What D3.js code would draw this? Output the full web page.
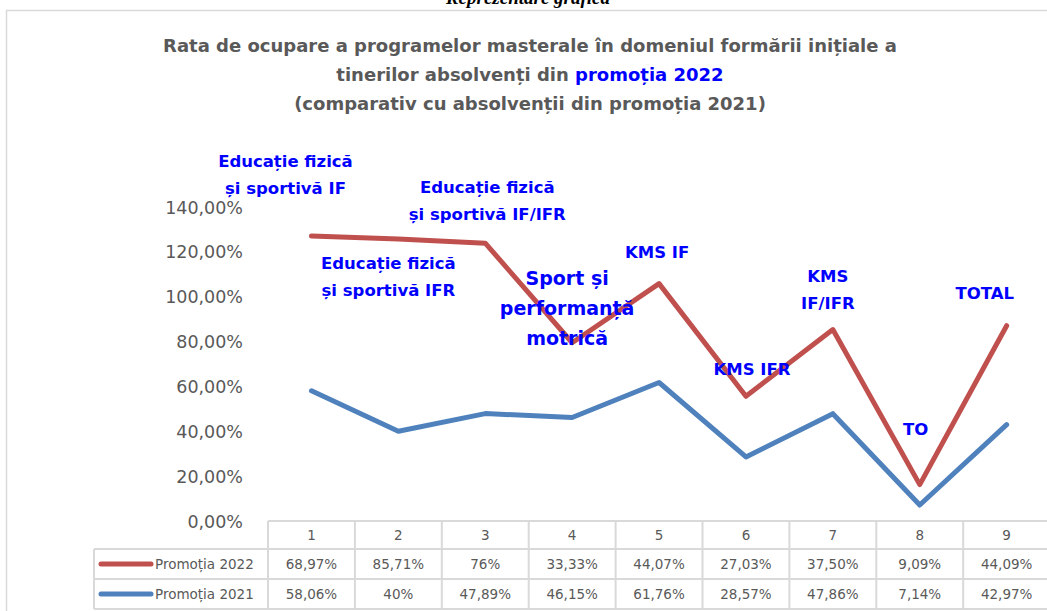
<!DOCTYPE html>
<html lang="ro">
<head>
<meta charset="UTF-8">
<title>Rata de ocupare</title>
<script src="https://d3js.org/d3.v7.min.js"></script>
<style>
  body { margin: 0; background: #fff; }
  svg { display: block; }
</style>
</head>
<body>
<svg id="chart" width="1047" height="611"></svg>
<script>
// program numbers (table header)
const categories = ["1", "2", "3", "4", "5", "6", "7", "8", "9"];
const promotia2022 = [68.97, 85.71, 76, 33.33, 44.07, 27.03, 37.50, 9.09, 44.09];
const promotia2021 = [58.06, 40, 47.89, 46.15, 61.76, 28.57, 47.86, 7.14, 42.97];
const labels2022 = ["68,97%", "85,71%", "76%", "33,33%", "44,07%", "27,03%", "37,50%", "9,09%", "44,09%"];
const labels2021 = ["58,06%", "40%", "47,89%", "46,15%", "61,76%", "28,57%", "47,86%", "7,14%", "42,97%"];
const yTicks = [0, 20, 40, 60, 80, 100, 120, 140];

// program names written over the chart (offsets from the red point)
const annotations = [
  { i: 0, lines: ["Educație fizică", "și sportivă IF"], dy: -69, dx: -26 },
  { i: 2, lines: ["Educație fizică", "și sportivă IF/IFR"], dy: -50, dx: 2 },
  { i: 1, lines: ["Educație fizică", "și sportivă IFR"], dy: 30, dx: -10 },
  { i: 3, lines: ["Sport și", "performanță", "motrică"], dy: -58, dx: -5, big: true },
  { i: 4, lines: ["KMS IF"], dy: -26, dx: -2 },
  { i: 5, lines: ["KMS IFR"], dy: -21, dx: 6 },
  { i: 6, lines: ["KMS", "IF/IFR"], dy: -48, dx: -5 },
  { i: 7, lines: ["TO"], dy: -50, dx: -4 },
  { i: 8, lines: ["TOTAL"], dy: -27, dx: -22 }
];

const red = "#C0504D", blue = "#4F81BD", grey = "#595959", grid = "#D9D9D9";
const font = "'DejaVu Sans', sans-serif";

const svg = d3.select("#chart");

// frame
svg.append("rect").attr("x", 6.5).attr("y", 10.5).attr("width", 1060).attr("height", 620)
  .attr("fill", "#fff").attr("stroke", grid).attr("stroke-width", 1.5);

// cut-off heading above the frame
svg.append("text").attr("x", 528).attr("y", 4).attr("text-anchor", "middle")
  .attr("font-family", "'Liberation Serif', serif").attr("font-style", "italic")
  .attr("font-weight", "bold").attr("font-size", 19).text("Reprezentare grafică");

// title
const title = svg.append("g").attr("font-family", font).attr("font-weight", "bold")
  .attr("font-size", 18).attr("fill", grey).attr("text-anchor", "middle");
title.append("text").attr("x", 530).attr("y", 52)
  .text("Rata de ocupare a programelor masterale în domeniul formării inițiale a");
const t2 = title.append("text").attr("x", 530).attr("y", 81);
t2.append("tspan").text("tinerilor absolvenți din ");
t2.append("tspan").attr("fill", "#0000FF").text("promoția 2022");
title.append("text").attr("x", 530).attr("y", 110)
  .text("(comparativ cu absolvenții din promoția 2021)");

// scales
const colW = 86.9, left = 268;
const x = d3.scaleBand().domain(categories).range([left, left + colW * categories.length]);
const y = d3.scaleLinear().domain([0, 140]).range([521, 207]);

// y axis
const yAxis = d3.axisLeft(y).tickValues(yTicks)
  .tickFormat(d => d3.format(".2f")(d).replace(".", ",") + "%").tickSize(0);
svg.append("g").attr("transform", "translate(246,0)").call(yAxis)
  .call(g => g.select(".domain").remove())
  .call(g => g.selectAll("text").attr("font-family", font).attr("font-size", 17.5)
    .attr("fill", grey).attr("dy", "0.35em"));

// stacked line values
const stacked = promotia2022.map((v, i) => v + promotia2021[i]);
const cx = c => x(c) + x.bandwidth() / 2;
const line = d3.line().x((d, i) => cx(categories[i])).y(d => y(d));

svg.append("path").datum(promotia2021).attr("d", line).attr("fill", "none")
  .attr("stroke", blue).attr("stroke-width", 5).attr("stroke-linejoin", "round").attr("stroke-linecap", "round");
svg.append("path").datum(stacked).attr("d", line).attr("fill", "none")
  .attr("stroke", red).attr("stroke-width", 5).attr("stroke-linejoin", "round").attr("stroke-linecap", "round");

// annotations
annotations.forEach(a => {
  const fs = a.big ? 19 : 16.5, lh = a.big ? 30 : 27;
  const t = svg.append("text").attr("font-family", font).attr("font-weight", "bold")
    .attr("font-size", fs).attr("fill", "#0000FF").attr("text-anchor", "middle");
  a.lines.forEach((l, k) => {
    t.append("tspan").attr("x", cx(categories[a.i]) + a.dx)
      .attr("y", y(stacked[a.i]) + a.dy + k * lh).text(l);
  });
});

// data table
const rowY = [521, 549, 579, 609];
const tbl = svg.append("g").attr("stroke", grid).attr("stroke-width", 2).attr("fill", "none");
tbl.append("line").attr("x1", left).attr("x2", 1060).attr("y1", rowY[0]).attr("y2", rowY[0]);
[1, 2, 3].forEach(r => tbl.append("line").attr("x1", 94).attr("x2", 1060)
  .attr("y1", rowY[r]).attr("y2", rowY[r]));
tbl.append("line").attr("x1", 94).attr("x2", 94).attr("y1", rowY[1]).attr("y2", rowY[3]);
categories.forEach(c => tbl.append("line").attr("x1", x(c)).attr("x2", x(c))
  .attr("y1", rowY[0]).attr("y2", rowY[3]));

const cells = svg.append("g").attr("font-family", font).attr("font-size", 13.5)
  .attr("fill", grey).attr("text-anchor", "middle");
categories.forEach((c, i) => {
  cells.append("text").attr("x", cx(c)).attr("y", 540).text(c);
  cells.append("text").attr("x", cx(c)).attr("y", 569).text(labels2022[i]);
  cells.append("text").attr("x", cx(c)).attr("y", 599).text(labels2021[i]);
});

// legend keys
[[red, "Promoția 2022", 564], [blue, "Promoția 2021", 594]].forEach(([col, name, yy]) => {
  svg.append("line").attr("x1", 101).attr("x2", 151).attr("y1", yy).attr("y2", yy)
    .attr("stroke", col).attr("stroke-width", 5).attr("stroke-linecap", "round");
  svg.append("text").attr("x", 155).attr("y", yy + 5).attr("font-family", font)
    .attr("font-size", 13.5).attr("fill", grey).text(name);
});
</script>
</body>
</html>
